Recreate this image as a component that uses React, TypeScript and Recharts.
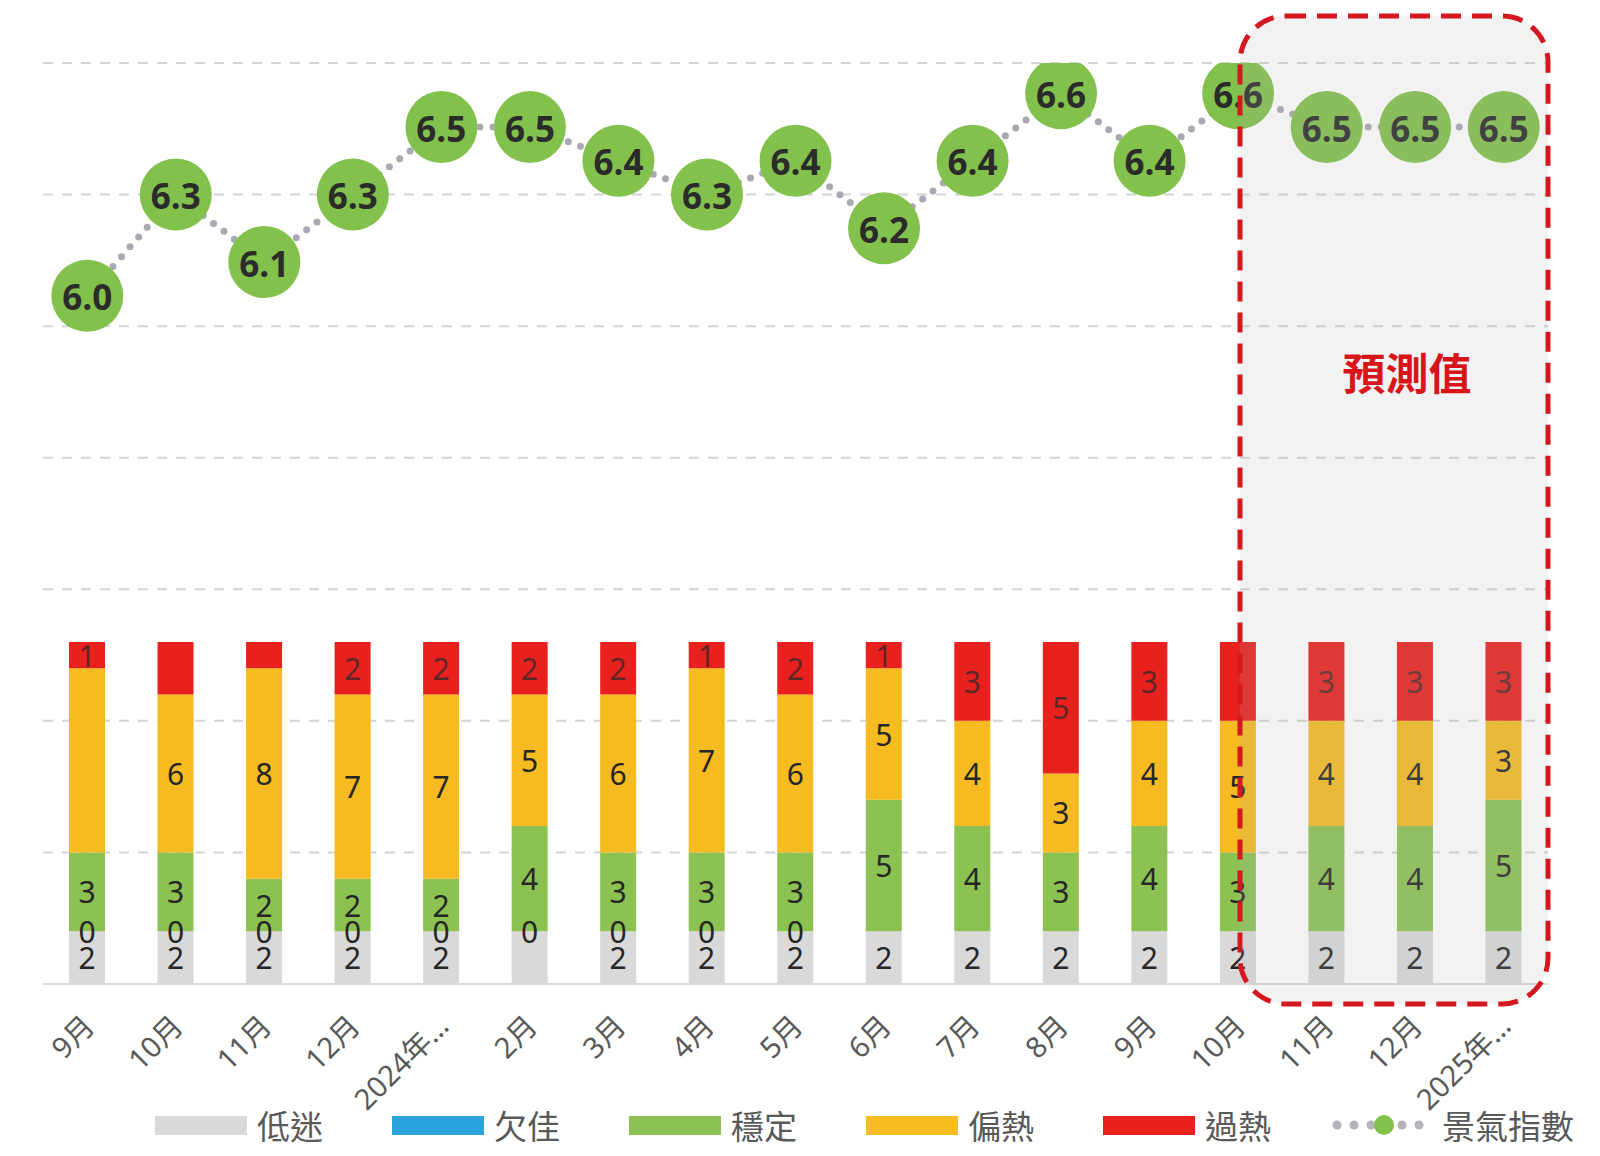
import React from "react";
import { ComposedChart, Bar, Line, XAxis, YAxis, CartesianGrid, Legend, LabelList } from "recharts";

const months = ["9月", "10月", "11月", "12月", "2024年…", "2月", "3月", "4月", "5月", "6月", "7月", "8月", "9月", "10月", "11月", "12月", "2025年…"];
const low = [2, 2, 2, 2, 2, 2, 2, 2, 2, 2, 2, 2, 2, 2, 2, 2, 2];
const poor = [0, 0, 0, 0, 0, 0, 0, 0, 0, null, null, null, null, null, null, null, null];
const stable = [3, 3, 2, 2, 2, 4, 3, 3, 3, 5, 4, 3, 4, 3, 4, 4, 5];
const warm = [7, 6, 8, 7, 7, 5, 6, 7, 6, 5, 4, 3, 4, 5, 4, 4, 3];
const hot = [1, 2, 1, 2, 2, 2, 2, 1, 2, 1, 3, 5, 3, 3, 3, 3, 3];
const indexValues = [6.0, 6.3, 6.1, 6.3, 6.5, 6.5, 6.4, 6.3, 6.4, 6.2, 6.4, 6.6, 6.4, 6.6, 6.5, 6.5, 6.5];

const barNames = ["低迷", "欠佳", "穩定", "偏熱", "過熱"];
const lineName = "景氣指數";
const leftTicks = [0, 5, 10, 15, 20, 25, 30, 35];
const rightTicks = [4, 4.5, 5, 5.5, 6, 6.5];

// labels Excel left off
const hiddenLow = [5];
const hiddenWarm = [0];
const hiddenHot = [1, 2, 13];

const colors = ["#d9d9d9", "#2ba3dd", "#8bc251", "#f5bb21", "#e8211f"];
const dotGreen = "#82c14b";
const cjk = '"Noto Sans CJK TC", "Noto Sans", sans-serif';
const latinFirst = '"Noto Sans", "Noto Sans CJK TC", sans-serif';

const data = months.map((m, i) => ({
  month: m,
  low: low[i],
  poor: poor[i],
  stable: stable[i],
  warm: warm[i],
  hot: hot[i],
  index: indexValues[i],
}));

// where: 0.5 = middle of segment, 1 = bottom edge (used for the zero-height 欠佳 segment)
const segLabel = (values: (number | null)[], hidden: number[], fill: string, where = 0.5) => (props: any) => {
  const i = props.index;
  const v = values[i];
  if (v == null || hidden.includes(i)) return null;
  const vb = props.viewBox || {};
  const x = props.x ?? vb.x;
  const y = props.y ?? vb.y;
  const w = props.width ?? vb.width;
  const h = props.height ?? vb.height;
  return (
    <text
      x={x + w / 2}
      y={y + h * where}
      textAnchor="middle"
      dominantBaseline="central"
      fontSize={30}
      fontFamily='"Noto Sans", sans-serif'
      fill={fill}
    >
      {v}
    </text>
  );
};

const XTick = (props: any) => {
  const { x, y, payload } = props;
  const ax = x + 9;
  const ay = y + 36;
  return (
    <text x={ax} y={ay} transform={`rotate(-45, ${ax}, ${ay})`} textAnchor="end" fontSize={29} fill="#595959" fontFamily={latinFirst}>
      {payload.value}
    </text>
  );
};

const LeftTick = (props: any) => (
  <text x={10} y={props.y} textAnchor="end" dominantBaseline="central" fontSize={26} fill="#e6e6e6" fontFamily={cjk}>
    {props.payload.value}
  </text>
);

const RightTick = (props: any) => (
  <text x={1582} y={props.y} textAnchor="start" dominantBaseline="central" fontSize={26} fill="#e6e6e6" fontFamily={cjk}>
    {Number(props.payload.value).toFixed(1)}
  </text>
);

const IndexDot = (props: any) => {
  const { cx, cy, index } = props;
  if (cx == null || cy == null) return null;
  return (
    <g key={`dot-${index}`}>
      <circle cx={cx} cy={cy} r={36} fill={dotGreen} />
      <text
        x={cx}
        y={cy + 1}
        textAnchor="middle"
        dominantBaseline="central"
        fontSize={35}
        fontWeight={700}
        fill="#2b2b2b"
        fontFamily='"Open Sans", sans-serif'
      >
        {indexValues[index].toFixed(1)}
      </text>
    </g>
  );
};

const renderLegend = () => (
  <div style={{ display: "flex", alignItems: "center", height: 50, paddingLeft: 155, fontSize: 33, color: "#595959", fontFamily: cjk }}>
    {barNames.map((n, i) => (
      <div key={n} style={{ width: 237, display: "flex", alignItems: "center" }}>
        <span style={{ display: "inline-block", width: 92, height: 19, background: colors[i], marginRight: 10 }} />
        <span>{n}</span>
      </div>
    ))}
    <div style={{ display: "flex", alignItems: "center", marginLeft: -8 }}>
      <svg width={104} height={30} style={{ marginRight: 6 }}>
        {[5, 22, 39, 70, 87].map((cx) => (
          <circle key={cx} cx={cx} cy={15} r={4.5} fill="#b3b4bc" />
        ))}
        <circle cx={52} cy={15} r={10} fill={dotGreen} />
      </svg>
      <span>{lineName}</span>
    </div>
  </div>
);

export default function App() {
  return (
    <div style={{ position: "relative", width: 1600, height: 1156, background: "#fff", overflow: "hidden" }}>
      <style>{"body{margin:0}"}</style>
      <ComposedChart width={1600} height={1156} data={data} margin={{ top: 63, right: 52, bottom: 6, left: 43 }}>
        <CartesianGrid yAxisId="left" vertical={false} stroke="#d4d4d4" strokeWidth={2} strokeDasharray="10 9" />
        <XAxis
          dataKey="month"
          interval={0}
          height={116}
          tickLine={false}
          axisLine={{ stroke: "#d9d9d9", strokeWidth: 2 }}
          tick={<XTick />}
        />
        <YAxis yAxisId="left" domain={[0, 35]} ticks={leftTicks} width={0} axisLine={false} tickLine={false} tick={<LeftTick />} />
        <YAxis
          yAxisId="right"
          orientation="right"
          domain={[3.96, 6.69]}
          ticks={rightTicks}
          width={0}
          axisLine={false}
          tickLine={false}
          tick={<RightTick />}
          allowDataOverflow
        />
        <Legend verticalAlign="bottom" height={50} content={renderLegend} wrapperStyle={{ left: 0, width: 1600 }} />
        <Bar yAxisId="left" dataKey="low" name={barNames[0]} stackId="a" fill={colors[0]} barSize={36} isAnimationActive={false}>
          <LabelList dataKey="low" content={segLabel(low, hiddenLow, "#262626")} />
        </Bar>
        <Bar yAxisId="left" dataKey="poor" name={barNames[1]} stackId="a" fill={colors[1]} barSize={36} isAnimationActive={false} />
        <Bar yAxisId="left" dataKey="stable" name={barNames[2]} stackId="a" fill={colors[2]} barSize={36} isAnimationActive={false}>
          <LabelList dataKey="stable" content={segLabel(stable, [], "#262626")} />
          <LabelList dataKey="stable" content={segLabel(poor, [], "#262626", 1)} />
        </Bar>
        <Bar yAxisId="left" dataKey="warm" name={barNames[3]} stackId="a" fill={colors[3]} barSize={36} isAnimationActive={false}>
          <LabelList dataKey="warm" content={segLabel(warm, hiddenWarm, "#262626")} />
        </Bar>
        <Bar yAxisId="left" dataKey="hot" name={barNames[4]} stackId="a" fill={colors[4]} barSize={36} isAnimationActive={false}>
          <LabelList dataKey="hot" content={segLabel(hot, hiddenHot, "rgba(45,40,40,0.75)")} />
        </Bar>
        <Line
          yAxisId="right"
          type="linear"
          dataKey="index"
          name={lineName}
          stroke="#a8a9b3"
          strokeWidth={7}
          strokeDasharray="0 13"
          strokeLinecap="round"
          dot={IndexDot}
          activeDot={false}
          isAnimationActive={false}
        />
      </ComposedChart>
      <svg width={1600} height={1156} style={{ position: "absolute", left: 0, top: 0, pointerEvents: "none" }}>
        <rect x={1240} y={16} width={308} height={988} rx={46} ry={46} fill="rgba(179,179,179,0.17)" stroke="#d41820" strokeWidth={5} strokeDasharray="20 11" />
        <text x={1407} y={371} textAnchor="middle" dominantBaseline="central" fontSize={43} fontWeight={700} fill="#d9151c" fontFamily={cjk}>
          預測值
        </text>
      </svg>
    </div>
  );
}
